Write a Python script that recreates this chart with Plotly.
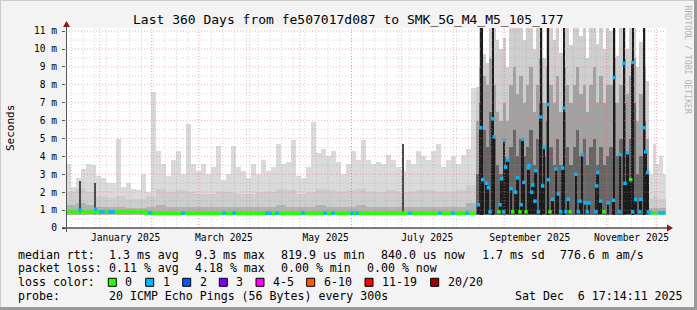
import plotly.graph_objects as go
import pandas as pd
import numpy as np

# ---------------- data ----------------
END = pd.Timestamp("2025-12-06 17:14:11")
START = END - pd.Timedelta(days=360)

# calm period: 3-day buckets starting at day 0 (light smoke top, ms)
calm_hi = [3.6, 2.3, 2.8, 3.3, 3.6, 3.5, 2.9, 2.8, 2.5, 2.5,
           5.0, 2.3, 2.5, 2.2, 2.1, 3.0, 2.0, 7.6, 4.3, 3.6,
           2.9, 3.8, 4.3, 3.0, 5.8, 3.6, 3.2, 3.6, 3.0, 3.4,
           4.6, 2.7, 3.0, 4.6, 3.4, 3.2, 2.8, 3.6, 3.0, 3.8,
           3.2, 3.4, 4.7, 3.6, 3.7, 4.9, 2.9, 2.8, 3.4, 5.9,
           4.2, 4.4, 4.0, 4.3, 3.7, 3.0, 3.6, 4.3, 3.8, 4.9,
           3.8, 3.6, 3.7, 3.6, 4.1, 3.8, 3.4, 3.2, 3.8, 3.6,
           4.3, 4.0, 3.8, 4.3, 4.7, 3.4, 3.8, 4.0, 3.6, 4.1,
           4.4, 7.8]
# calm period: 6-day buckets (mid smoke top, dark smoke top, median)
calm_mid = [2.0, 2.2, 2.0, 1.8, 1.7, 1.8, 1.6, 1.6, 1.8, 2.2,
            2.0, 2.1, 2.0, 1.9, 1.9, 2.0, 2.0, 1.9, 1.9, 2.0,
            2.0, 2.2, 2.1, 1.9, 2.0, 2.2, 2.1, 2.0, 2.1, 2.2,
            2.0, 2.0, 2.1, 2.0, 2.0, 2.1, 2.1, 2.0, 2.0, 2.1, 2.4]
calm_dark = [1.3, 1.4, 1.3, 1.2, 1.2, 1.2, 1.1, 1.1, 1.2, 1.3,
             1.2, 1.2, 1.2, 1.2, 1.2, 1.2, 1.2, 1.2, 1.2, 1.2,
             1.2, 1.3, 1.2, 1.2, 1.2, 1.3, 1.2, 1.2, 1.2, 1.3,
             1.2, 1.2, 1.2, 1.2, 1.2, 1.2, 1.2, 1.2, 1.2, 1.2, 1.4]
calm_median = [0.9, 0.9, 0.9, 0.9, 0.9, 0.9, 0.9, 0.9, 0.83, 0.83,
               0.83, 0.83, 0.83, 0.83, 0.83, 0.83, 0.83, 0.83, 0.83, 0.83,
               0.83, 0.83, 0.83, 0.83, 0.83, 0.83, 0.83, 0.83, 0.83, 0.83,
               0.83, 0.83, 0.83, 0.83, 0.83, 0.83, 0.83, 0.83, 0.83, 0.83, 0.83]
calm_loss1_day = [8.4, 17.8, 21.0, 22.2, 26.4, 28.2, 50.4, 70.2, 94.8, 100.8,
                  120.6, 122.4, 126.6, 142.2, 155.4, 160.2, 171.6, 174.6,
                  206.4, 224.4, 232.2, 240.6]
calm_loss1_val = [1.0, 1.05, 0.9, 0.9, 0.9, 0.9, 0.85, 0.83, 0.83, 0.83,
                  0.83, 0.83, 0.83, 0.83, 0.83, 0.83, 0.83, 0.83,
                  0.83, 0.83, 0.83, 0.83]
streak_day = [8.4, 17.4, 202.2]
streak_top = [2.6, 2.5, 4.7]

# unstable period: 2-day buckets starting at day 246
chaos_hi = [7.9, 11.5, 9.7, 9.2, 11.5, 11.5, 10.5, 10.0, 10.6, 9.0,
            11.5, 11.5, 11.5, 11.5, 10.5, 11.5, 11.5, 10.0, 11.5, 11.5,
            9.5, 11.5, 11.5, 10.5, 11.5, 9.8, 11.5, 11.5, 10.2, 11.5,
            11.5, 10.7, 11.5, 9.5, 11.5, 11.5, 10.3, 11.5, 10.0, 11.5,
            11.0, 11.5, 9.6, 11.5, 11.5, 10.0, 11.5, 11.5, 9.0, 10.4,
            11.5, 8.2]
chaos_mid = [6.0, 9.0, 8.5, 8.0, 9.5, 8.0, 6.5, 6.0, 7.0, 6.0,
             8.0, 9.0, 7.5, 8.5, 7.0, 8.0, 9.0, 6.5, 8.0, 9.5,
             7.0, 9.0, 8.0, 7.0, 8.5, 6.5, 9.0, 8.0, 7.0, 8.0,
             9.0, 7.5, 8.0, 6.5, 8.0, 9.0, 7.0, 8.5, 7.0, 8.0,
             8.0, 9.5, 7.0, 8.0, 9.5, 7.5, 8.5, 9.5, 6.0, 7.5,
             9.0, 5.0]
chaos_dark = [3.0, 7.0, 5.5, 4.5, 6.5, 5.0, 3.5, 3.0, 4.0, 3.5,
              4.5, 5.5, 4.0, 5.0, 4.0, 4.5, 5.5, 3.5, 5.0, 7.0,
              4.0, 6.0, 4.5, 3.5, 5.0, 3.5, 6.5, 4.5, 3.5, 4.5,
              5.5, 4.0, 5.0, 3.5, 4.5, 5.0, 3.5, 4.5, 3.5, 4.0,
              4.5, 7.0, 4.0, 5.0, 7.0, 4.0, 5.0, 7.0, 3.0, 4.0,
              6.0, 3.0]
full_black_day = [248.7, 249.7, 256.2, 285.0, 289.2, 298.8, 328.8, 334.8, 340.2, 346.8]
chaos_med_day = [247.4, 248.8, 250.0, 252.4, 253.4, 256.0, 257.0, 260.4, 261.4, 263.0,
                 263.8, 265.0, 267.0, 268.0, 269.8, 271.0, 273.0, 274.0, 274.8, 277.4,
                 277.8, 279.4, 280.0, 281.4, 281.8, 284.8, 286.0, 287.0, 289.2, 289.4,
                 292.0, 294.0, 295.4, 298.0, 298.8, 301.4, 306.0, 308.4, 309.8, 311.4,
                 313.8, 318.4, 319.0, 320.8, 325.4, 328.4, 329.0, 332.4, 334.8, 335.4,
                 337.0, 338.8, 340.0, 341.8, 344.8, 346.8, 347.8, 349.0,
                 254.4, 259.8, 262.6, 272.4, 276.0, 283.4, 290.4, 296.8, 300.0, 302.4,
                 307.4, 312.8, 318.0, 322.8, 332.0, 340.0, 344.4, 349.4]
chaos_med_val = [1.3, 5.6, 2.7, 2.5, 2.25, 6.1, 5.1, 1.3, 2.75, 4.9,
                 3.4, 3.8, 2.2, 0.9, 2.0, 2.8, 1.3, 4.95, 2.55, 3.35,
                 3.5, 2.0, 2.4, 1.5, 3.2, 6.2, 2.35, 4.5, 6.9, 2.7,
                 1.6, 3.3, 1.9, 3.35, 6.7, 1.6, 3.0, 1.5, 4.1, 1.4,
                 1.4, 2.35, 3.1, 1.5, 1.4, 1.55, 8.4, 4.1, 9.2, 2.5,
                 4.2, 2.7, 9.25, 1.6, 1.6, 5.6, 4.25, 3.1,
                 0.9, 0.9, 0.9, 0.9, 0.9, 0.9, 0.9, 0.9, 0.9, 0.9,
                 0.9, 0.9, 0.9, 0.9, 0.9, 0.9, 0.9, 0.9]
chaos_med_loss = [1, 1, 1, 1, 1, 1, 1, 1, 1, 1,
                  1, 1, 1, 0, 1, 1, 1, 1, 1, 1,
                  1, 1, 1, 1, 1, 1, 1, 1, 1, 1,
                  1, 1, 1, 1, 1, 1, 1, 1, 1, 1,
                  1, 1, 1, 1, 1, 1, 1, 1, 1, 1,
                  1, 0, 1, 1, 1, 1, 1, 1,
                  1, 0, 1, 0, 0, 1, 0, 1, 1, 0,
                  1, 1, 1, 0, 1, 1, 1, 1]

# tail period: 2-day buckets starting at day 350
tail_hi = [3.0, 4.7, 3.6, 4.0, 3.0]
tail_mid = [1.6, 1.8, 1.7, 1.6, 1.6]
tail_dark = [1.1, 1.1, 1.1, 1.1, 1.1]
tail_median = [0.85, 0.85, 0.85, 0.85, 0.85]
tail_loss1_day = [350.4, 356.4, 358.2]

y_tick_vals = [0, 1, 2, 3, 4, 5, 6, 7, 8, 9, 10, 11]
y_tick_text = ["0", "1 m", "2 m", "3 m", "4 m", "5 m", "6 m", "7 m", "8 m", "9 m", "10 m", "11 m"]
x_label_months = ["2025-01", "2025-03", "2025-05", "2025-07", "2025-09", "2025-11"]
x_label_text = ["January 2025", "March 2025", "May 2025", "July 2025", "September 2025", "November 2025"]

legend_rows = [
    [("median rtt:", 16), ("1.3 ms avg", 107.3), ("9.3 ms max", 193.3), ("819.9 us min", 279.3),
     ("840.0 us now", 379.3), ("1.7 ms sd", 480), ("776.6 m am/s", 558.3)],
    [("packet loss:", 16), ("0.11 % avg", 107.3), ("4.18 % max", 193.3), ("0.00 % min", 279.3),
     ("0.00 % now", 365)],
    [("loss color:", 16)],
    [("probe:", 16), ("20 ICMP Echo Pings (56 Bytes) every 300s", 107.3),
     ("Sat Dec\u00a0\u00a06 17:14:11 2025", 513.3)],
]
loss_labels = ["0", "1", "2", "3", "4-5", "6-10", "11-19", "20/20"]
loss_colors = ["#26ff00", "#00b8ff", "#0059ff", "#7e00ff", "#ff00ff", "#ff5a00", "#ff0000", "#a10000"]
loss_box_x = [108.3, 145.7, 182.7, 219.3, 256, 306.7, 365, 430.7]

# ---------------- geometry / style ----------------
W, H = 697, 310
L, R, T, B = 66, 31, 28, 82
PW, PH = W - L - R, H - T - B
YMAX = PH / 17.9
MS_DAY = 86400000
FONT = "DejaVu Sans Mono"
C_LIGHT, C_MID, C_DARK, C_BLACK, C_STREAK = "#dadada", "#cdcdcd", "#b2b2b2", "#1c1c1c", "#4a4a4a"
GREEN, CYAN = "#26ff00", "#00b8ff"


def d2t(d):
    return START + pd.to_timedelta(np.asarray(d, dtype=float), unit="D")


def px(xp):
    return (xp - L) / PW


def py(yp):
    return (T + PH - yp) / PH


def bars(day0, width, tops, base, color):
    tops = np.asarray(tops, dtype=float)
    n = len(tops)
    return go.Bar(x=d2t(day0 + width * (np.arange(n) + 0.5)), y=tops - base, base=base,
                  width=width * MS_DAY, marker=dict(color=color, line=dict(width=0)),
                  hoverinfo="skip", showlegend=False)


fig = go.Figure()
# smoke
fig.add_trace(bars(0, 3, calm_hi, 0.7, C_LIGHT))
fig.add_trace(bars(0, 6, calm_mid, 0.72, C_MID))
fig.add_trace(bars(0, 6, calm_dark, 0.74, C_DARK))
fig.add_trace(bars(246, 2, chaos_hi, 0.7, "#cfcfcf"))
fig.add_trace(bars(246, 2, chaos_mid, 0.72, "#a2a2a2"))
fig.add_trace(bars(246, 2, chaos_dark, 0.75, "#666666"))
fig.add_trace(bars(350, 2, tail_hi, 0.7, C_LIGHT))
fig.add_trace(bars(350, 2, tail_mid, 0.72, C_MID))
fig.add_trace(bars(350, 2, tail_dark, 0.74, C_DARK))
# streaks and black lines
fig.add_trace(go.Bar(x=d2t(streak_day), y=np.array(streak_top) - 0.8, base=0.8, width=1.2 * MS_DAY,
                     marker=dict(color=C_STREAK, line=dict(width=0)), hoverinfo="skip", showlegend=False))
fig.add_trace(go.Bar(x=d2t(full_black_day), y=[11.5 - 0.75] * len(full_black_day), base=0.75,
                     width=1.2 * MS_DAY, marker=dict(color=C_BLACK, line=dict(width=0)),
                     hoverinfo="skip", showlegend=False))
fig.add_trace(go.Bar(x=d2t(chaos_med_day), y=np.array(chaos_med_val) - 0.8, base=0.8, width=1.1 * MS_DAY,
                     marker=dict(color=C_BLACK, line=dict(width=0)), hoverinfo="skip", showlegend=False))
# median lines
cm_days = np.concatenate([np.arange(len(calm_median)) * 6, [246]])
fig.add_trace(go.Scatter(x=d2t(cm_days), y=list(calm_median) + [calm_median[-1]], mode="lines",
                         line=dict(color=GREEN, width=3.5, shape="hv"), hoverinfo="skip", showlegend=False))
tm_days = np.concatenate([350 + np.arange(len(tail_median)) * 2, [360]])
fig.add_trace(go.Scatter(x=d2t(tm_days), y=list(tail_median) + [tail_median[-1]], mode="lines",
                         line=dict(color=GREEN, width=3.5, shape="hv"), hoverinfo="skip", showlegend=False))
fig.add_trace(go.Scatter(x=d2t(calm_loss1_day + tail_loss1_day),
                         y=calm_loss1_val + [tail_median[0]] * len(tail_loss1_day), mode="markers",
                         marker=dict(symbol="square", size=3.5, color=CYAN, line=dict(width=0)),
                         hoverinfo="skip", showlegend=False))
fig.add_trace(go.Scatter(x=d2t(chaos_med_day), y=chaos_med_val, mode="markers",
                         marker=dict(symbol="square", size=3.5,
                                     color=[GREEN if v == 0 else CYAN for v in chaos_med_loss],
                                     line=dict(width=0)),
                         hoverinfo="skip", showlegend=False))

shapes = []
# grid (drawn above the smoke, like rrdtool)
weeks = pd.date_range("2024-12-15", END, freq="7D")
months = pd.date_range("2025-01-01", END, freq="MS")
for w in weeks:
    shapes.append(dict(type="line", xref="x", yref="paper", x0=w, x1=w, y0=0, y1=1, layer="above",
                       line=dict(color="rgba(150,150,150,0.4)", width=1, dash="1px,2px")))
for m in months:
    shapes.append(dict(type="line", xref="x", yref="paper", x0=m, x1=m, y0=0, y1=1, layer="above",
                       line=dict(color="rgba(235,110,110,0.55)", width=1, dash="1px,2px")))
for v in np.arange(0.5, 11.5, 1.0):
    shapes.append(dict(type="line", xref="paper", yref="y", x0=0, x1=1, y0=v, y1=v, layer="above",
                       line=dict(color="rgba(150,150,150,0.4)", width=1, dash="1px,2px")))
for v in range(1, 12):
    shapes.append(dict(type="line", xref="paper", yref="y", x0=0, x1=1, y0=v, y1=v, layer="above",
                       line=dict(color="rgba(235,110,110,0.55)", width=1, dash="1px,2px")))
# axes with arrows
shapes.append(dict(type="line", xref="paper", yref="paper", x0=px(62), x1=px(667), y0=py(228), y1=py(228),
                   layer="above", line=dict(color="#000000", width=1)))
shapes.append(dict(type="line", xref="paper", yref="paper", x0=px(66.5), x1=px(66.5), y0=py(232), y1=py(26),
                   layer="above", line=dict(color="#555555", width=1)))
shapes.append(dict(type="path", xref="paper", yref="paper", layer="above",
                   path=f"M {px(667)} {py(224.5)} L {px(673)} {py(228)} L {px(667)} {py(231.5)} Z",
                   fillcolor="#8b1a1a", line=dict(width=0)))
shapes.append(dict(type="path", xref="paper", yref="paper", layer="above",
                   path=f"M {px(63)} {py(27)} L {px(66.5)} {py(21)} L {px(70)} {py(27)} Z",
                   fillcolor="#8b1a1a", line=dict(width=0)))
# frame
shapes.append(dict(type="line", xref="paper", yref="paper", x0=px(0), x1=px(697), y0=py(0.5), y1=py(0.5),
                   line=dict(color="#cbcbcb", width=1)))
shapes.append(dict(type="line", xref="paper", yref="paper", x0=px(0.5), x1=px(0.5), y0=py(0), y1=py(310),
                   line=dict(color="#cbcbcb", width=1)))
shapes.append(dict(type="line", xref="paper", yref="paper", x0=px(0), x1=px(697), y0=py(308.5), y1=py(308.5),
                   line=dict(color="#999999", width=3)))
shapes.append(dict(type="line", xref="paper", yref="paper", x0=px(695.5), x1=px(695.5), y0=py(0), y1=py(310),
                   line=dict(color="#999999", width=3)))
# loss color boxes
for c, bx in zip(loss_colors, loss_box_x):
    shapes.append(dict(type="rect", xref="paper", yref="paper", x0=px(bx), x1=px(bx + 8),
                       y0=py(278.3), y1=py(286.3), fillcolor=c, line=dict(color="#000000", width=1)))

ann = []
ann.append(dict(text="Last 360 Days from fe507017d087 to SMK_5G_M4_M5_105_177", xref="paper", yref="paper",
                x=px(348), y=py(19), xanchor="center", yanchor="middle", showarrow=False,
                font=dict(family=FONT, size=13, color="#000000")))
ann.append(dict(text="Seconds", xref="paper", yref="paper", x=px(10), y=py(128), textangle=-90,
                xanchor="center", yanchor="middle", showarrow=False,
                font=dict(family=FONT, size=11, color="#000000")))
ann.append(dict(text="RRDTOOL / TOBI OETIKER", xref="paper", yref="paper", x=px(687.5), y=py(60), textangle=90,
                xanchor="center", yanchor="middle", showarrow=False,
                font=dict(family=FONT, size=8.2, color="#b4b4b4")))
row_y = [255, 268.3, 282.3, 295.7]
for row, yy in zip(legend_rows, row_y):
    for txt, xx in row:
        ann.append(dict(text=txt.replace(" ", "\u00a0"), xref="paper", yref="paper", x=px(xx), y=py(yy),
                        xanchor="left", yanchor="middle", showarrow=False,
                        font=dict(family=FONT, size=11.6, color="#000000")))
for lab, bx in zip(loss_labels, loss_box_x):
    ann.append(dict(text=lab, xref="paper", yref="paper", x=px(bx + 15), y=py(282.3),
                    xanchor="left", yanchor="middle", showarrow=False,
                    font=dict(family=FONT, size=11.6, color="#000000")))

label_pos = []
for m in x_label_months:
    s = pd.Timestamp(m + "-01")
    e = s + pd.offsets.MonthBegin(1)
    label_pos.append(s + (e - s) / 2)

fig.update_layout(
    width=W, height=H, margin=dict(l=L, r=R, t=T, b=B, pad=0),
    paper_bgcolor="#f3f3f3", plot_bgcolor="#ffffff",
    barmode="overlay", bargap=0, showlegend=False,
    font=dict(family=FONT, color="#000000"),
    shapes=shapes, annotations=ann,
    xaxis=dict(type="date", range=[START, END], tickmode="array", tickvals=label_pos, ticktext=x_label_text,
               showgrid=False, zeroline=False, showline=False, ticks="", ticklabelstandoff=2,
               tickfont=dict(family=FONT, size=9.6, color="#000000"), fixedrange=True),
    yaxis=dict(range=[0, YMAX], tickmode="array", tickvals=y_tick_vals, ticktext=y_tick_text,
               showgrid=False, zeroline=False, showline=False, ticks="outside", ticklen=3,
               tickcolor="#555555", ticklabelstandoff=3,
               tickfont=dict(family=FONT, size=9.6, color="#000000"), fixedrange=True),
)
fig.write_html("out.html")
